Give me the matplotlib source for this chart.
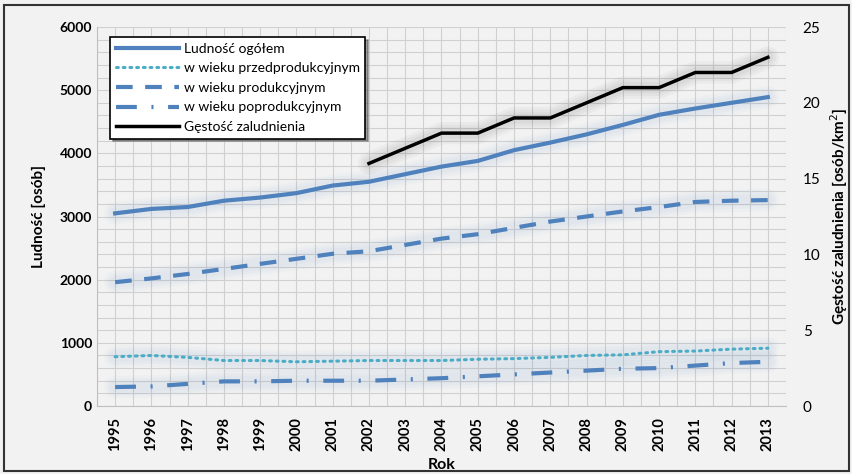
import matplotlib.pyplot as plt
import matplotlib.patches as mpatches
import numpy as np

lata = [str(r) for r in range(1995, 2014)]
ogolem = [3050, 3120, 3150, 3250, 3300, 3370, 3490, 3550, 3670, 3790,
          3880, 4050, 4170, 4300, 4450, 4610, 4710, 4800, 4890]
przed = [780, 800, 770, 720, 720, 700, 710, 720, 720, 720,
         740, 750, 770, 800, 810, 860, 870, 900, 915]
prod = [1960, 2020, 2090, 2170, 2250, 2330, 2410, 2450, 2550, 2650,
        2720, 2820, 2920, 3000, 3080, 3150, 3230, 3250, 3260]
poprod = [300, 310, 350, 390, 390, 400, 400, 400, 420, 440,
          470, 500, 530, 560, 590, 600, 640, 680, 700]
lata_gestosc = lata[7:]
gestosc = [16, 17, 18, 18, 19, 19, 20, 21, 21, 22, 22, 23]

plt.rcParams['font.family'] = ['Lato', 'DejaVu Sans']
bg = '#f2f2f2'
niebieski = '#4f81bd'
turkus = '#4bacc6'

fig = plt.figure(figsize=(8.53, 4.74), dpi=100, facecolor=bg)
ax = fig.add_axes([97/853, 1-406/474, (786-97)/853, (406-27)/474])
ax.set_facecolor(bg)
ax2 = ax.twinx()

x = np.arange(len(lata))
xg = np.arange(7, len(lata))

# miekka poswiata pod liniami
for w in (16, 12, 8):
    for s in (ogolem, przed, prod, poprod):
        ax.plot(x, s, color=niebieski, lw=w, alpha=0.035, solid_capstyle='round', zorder=2)
    ax2.plot(xg, gestosc, color='#000000', lw=w, alpha=0.03, solid_capstyle='round')

l1, = ax.plot(x, ogolem, color=niebieski, lw=3, label='Ludność ogółem', zorder=3)
l2, = ax.plot(x, przed, color=turkus, lw=2.2, ls=(0, (0.6, 1.6)), dash_capstyle='round',
              label='w wieku przedprodukcyjnym', zorder=3)
l3, = ax.plot(x, prod, color=niebieski, lw=3, ls=(0, (4, 3)), label='w wieku produkcyjnym', zorder=3)
l4, = ax.plot(x, poprod, color=niebieski, lw=3, ls=(0, (5, 3.5, 0.5, 3.5)),
              label='w wieku poprodukcyjnym', zorder=3)
l5, = ax2.plot(xg, gestosc, color='black', lw=2.5, label='Gęstość zaludnienia')

ax.set_xlim(-0.5, len(lata) - 0.5)
ax.set_ylim(0, 6000)
ax2.set_ylim(0, 25)
ax.set_xticks(x)
ax.set_xticklabels(lata, rotation=90, fontweight='bold', fontsize=10.5)
ax.set_yticks(np.arange(0, 6001, 1000))
ax.set_yticks(np.arange(0, 6001, 200), minor=True)
ax.set_xticks(np.arange(-0.5, len(lata), 0.5), minor=True)
ax.tick_params(axis='y', labelsize=10, length=0, which='both')
ax.tick_params(axis='x', length=0, which='both', pad=8)
for t in ax.get_yticklabels():
    t.set_fontweight('bold')
ax2.set_yticks(np.arange(0, 26, 5))
ax2.tick_params(axis='y', labelsize=11, length=0, pad=12)

ax.grid(True, which='both', color='#d0d0d0', lw=0.8)
ax.set_axisbelow(True)
for a in (ax, ax2):
    for sp in a.spines.values():
        sp.set_visible(False)
ax.spines['left'].set_visible(True)
ax.spines['left'].set_color('#bfbfbf')
ax.spines['bottom'].set_visible(True)
ax.spines['bottom'].set_color('#bfbfbf')

ax.set_xlabel('Rok', fontweight='bold', fontsize=11.5, labelpad=5)
ax.set_ylabel('Ludność [osób]', fontweight='bold', fontsize=11, labelpad=10)
ax2.set_ylabel('Gęstość zaludnienia [osób/km$^2$]', fontweight='bold', fontsize=11, labelpad=6)

leg = ax.legend(handles=[l1, l2, l3, l4, l5], loc='upper left',
                bbox_to_anchor=((110-97)/689, 1-(37-27)/379), fontsize=10,
                frameon=True, fancybox=False, shadow=True, handlelength=4.6,
                borderpad=0.4, labelspacing=0.55, handletextpad=0.3,
                borderaxespad=0)
leg.get_frame().set_edgecolor('black')
leg.get_frame().set_facecolor('white')
leg.get_frame().set_linewidth(1.2)
leg.set_zorder(10)

fig.patches.append(mpatches.Rectangle((4/853, 3/474), 845/853, 466/474,
                                      transform=fig.transFigure, fill=False,
                                      edgecolor='#333333', lw=1.5))

fig.savefig('out.png', dpi=100, facecolor=bg)
